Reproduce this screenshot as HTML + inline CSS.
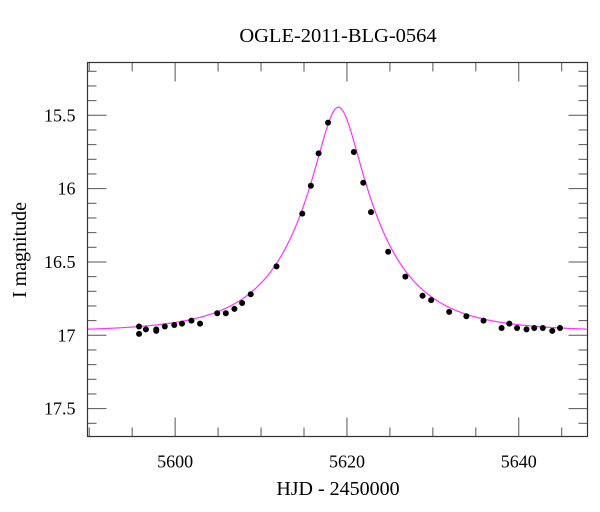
<!DOCTYPE html>
<html><head><meta charset="utf-8"><style>
body{margin:0;background:#fff}
svg{display:block;font-family:"Liberation Serif",serif}
</style></head><body>
<svg id="chart" width="600" height="512">
<text x="338" y="42" text-anchor="middle" font-size="20.5">OGLE-2011-BLG-0564</text>
<text x="338" y="495" text-anchor="middle" font-size="20">HJD - 2450000</text>
<text transform="translate(26,250) rotate(-90)" text-anchor="middle" font-size="20">I magnitude</text>
<g id="ticks"></g>
<g id="curve"></g>
<g id="points"></g>
<rect x="87.5" y="62.5" width="500" height="374" fill="none" stroke="#333" stroke-width="1.2"/>
</svg>
<script>
const times=[5595.8,5595.8,5596.6,5597.8,5597.8,5598.8,5599.9,5600.8,5601.9,5602.9,5604.9,5605.9,5606.9,5607.8,5608.8,5611.8,5614.8,5615.8,5616.7,5617.8,5620.8,5621.9,5622.8,5624.8,5626.8,5628.8,5629.8,5631.9,5633.9,5635.9,5638.0,5638.9,5639.8,5640.9,5641.8,5642.8,5643.9,5644.8];
const mags=[16.94,16.99,16.96,16.96,16.97,16.94,16.93,16.92,16.90,16.92,16.85,16.85,16.82,16.78,16.72,16.53,16.17,15.98,15.76,15.55,15.75,15.96,16.16,16.43,16.60,16.73,16.76,16.84,16.87,16.90,16.95,16.92,16.95,16.96,16.95,16.95,16.97,16.95];
const xMajor=[5600,5620,5640];
const yMajor=[15.5,16,16.5,17,17.5];
const yLabels=["15.5","16","16.5","17","17.5"];
const modelT0=5619, modelU0=0.25, modelTE=9.5, modelBase=16.975;
const X0=87.5,X1=587.5,Y0=62.5,Y1=436.5,xMin=5589.8,xMax=5648,yMin=15.14,yMax=17.69;
const sx=t=>X0+(t-xMin)/(xMax-xMin)*(X1-X0);
const sy=m=>Y0+(m-yMin)/(yMax-yMin)*(Y1-Y0);
const NS="http://www.w3.org/2000/svg";
function mk(tag,attrs,parent){const e=document.createElementNS(NS,tag);for(const k in attrs)e.setAttribute(k,attrs[k]);parent.appendChild(e);return e;}
const tg=document.getElementById('ticks');
for(let t=5590;t<=5648;t+=5){
  const maj=t%20===0, L=maj?19:9, x=sx(t);
  let a=mk('line',{x1:x,x2:x,y1:Y1,y2:Y1-L,stroke:'#555','stroke-width':1},tg);
  
  
  let b=mk('line',{x1:x,x2:x,y1:Y0,y2:Y0+L,stroke:'#555','stroke-width':1},tg);
  
  
}
xMajor.forEach(t=>{
  const tx=mk('text',{x:sx(t),y:Y1+31,'text-anchor':'middle','font-size':18},tg);
  tx.textContent=t;
  
  
});
for(let i=0;i<=26;i++){
  const m=15.2+i*0.1; if(m>yMax)break;
  const maj=Math.abs(m*2-Math.round(m*2))<1e-6, L=maj?19:9, y=sy(m);
  let a=mk('line',{x1:X0,x2:X0+L,y1:y,y2:y,stroke:'#555','stroke-width':1},tg);
  
  
  let b=mk('line',{x1:X1,x2:X1-L,y1:y,y2:y,stroke:'#555','stroke-width':1},tg);
  
  
}
yMajor.forEach((m,i)=>{
  const tx=mk('text',{x:X0-12,y:sy(m)+6,'text-anchor':'end','font-size':18},tg);
  tx.textContent=yLabels[i];
  
  
});
function model(t){const tau=(t-modelT0)/modelTE;const u=Math.sqrt(modelU0*modelU0+tau*tau);const A=(u*u+2)/(u*Math.sqrt(u*u+4));return modelBase-2.5*Math.log10(A);}
let d='';
for(let t=xMin;t<=xMax;t+=0.1){d+=(d?'L':'M')+sx(t).toFixed(2)+','+sy(model(t)).toFixed(2);}
const p=mk('path',{d:d,fill:'none',stroke:'#ff33ff','stroke-width':1.2},document.getElementById('curve'));


const pg=document.getElementById('points');
times.forEach((t,i)=>{
  const c=mk('circle',{cx:sx(t),cy:sy(mags[i]),r:3,fill:'#000'},pg);
  
  
});
</script>
</body></html>
